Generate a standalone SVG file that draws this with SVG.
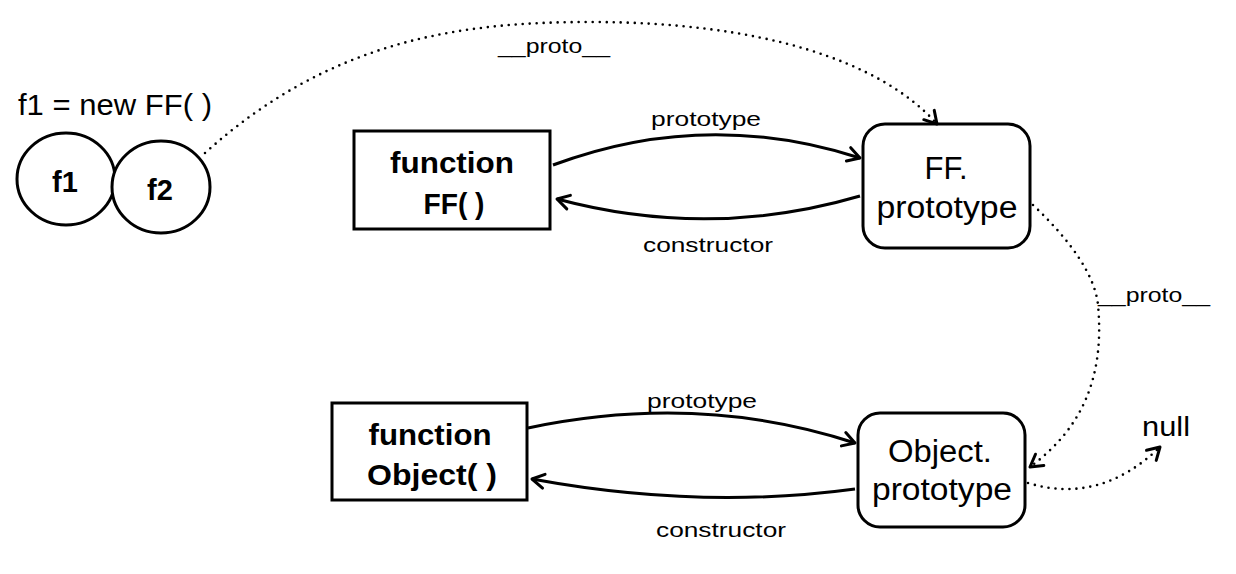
<svg xmlns="http://www.w3.org/2000/svg" width="1236" height="574" viewBox="0 0 1236 574">
<style>
text{font-family:"Liberation Sans",Arial,sans-serif;fill:#000}
.b{font-weight:bold;font-size:30px;text-anchor:middle}
.n{font-size:31px;text-anchor:middle}
.l{font-size:21px;text-anchor:middle}
.shape{fill:#fff;stroke:#000;stroke-width:3}
.solid{fill:none;stroke:#000;stroke-width:3}
.dot{fill:none;stroke:#000;stroke-width:2.6;stroke-linecap:round;stroke-dasharray:0 7}
</style>
<defs>
<marker id="ah" viewBox="0 0 20 20" refX="18" refY="10" markerWidth="20" markerHeight="20" markerUnits="userSpaceOnUse" orient="auto">
<path d="M6,3 L18,10 L6,17" fill="none" stroke="#000" stroke-width="3" stroke-linecap="round" stroke-linejoin="round"/>
</marker>
</defs>
<g id="label-new">
<text x="18" y="115" style="font-size:30px" textLength="194" lengthAdjust="spacingAndGlyphs">f1 = new FF( )</text>
</g>
<g id="f1">
<ellipse class="shape" cx="66" cy="179" rx="49" ry="46"/>
<text class="b" x="65" y="192" style="font-size:29px">f1</text>
</g>
<g id="f2">
<ellipse class="shape" cx="161" cy="187" rx="49" ry="46"/>
<text class="b" x="160" y="200" style="font-size:29px">f2</text>
</g>
<g id="functionFF">
<rect class="shape" x="354" y="131" width="196" height="98"/>
<text class="b" x="452" y="173" textLength="124" lengthAdjust="spacingAndGlyphs">function</text>
<text class="b" x="454" y="214" textLength="61" lengthAdjust="spacingAndGlyphs">FF( )</text>
</g>
<g id="FFprototype">
<rect class="shape" x="863" y="124" width="167" height="124" rx="22"/>
<text class="n" x="946" y="179">FF.</text>
<text class="n" x="947" y="218" textLength="141" lengthAdjust="spacingAndGlyphs">prototype</text>
</g>
<g id="functionObject">
<rect class="shape" x="332" y="403" width="195" height="97"/>
<text class="b" x="430" y="445" textLength="123" lengthAdjust="spacingAndGlyphs">function</text>
<text class="b" x="432" y="485" textLength="130" lengthAdjust="spacingAndGlyphs">Object( )</text>
</g>
<g id="ObjectPrototype">
<rect class="shape" x="858" y="413" width="167" height="114" rx="22"/>
<text class="n" x="940" y="462" textLength="104" lengthAdjust="spacingAndGlyphs">Object.</text>
<text class="n" x="942" y="500" textLength="140" lengthAdjust="spacingAndGlyphs">prototype</text>
</g>
<g id="null">
<text x="1142" y="436" style="font-size:28px" textLength="48" lengthAdjust="spacingAndGlyphs">null</text>
</g>
<g id="connectors">
<path class="solid" d="M553,165 Q705,108 860,158" marker-end="url(#ah)"/>
<text class="l" x="706" y="126" textLength="110" lengthAdjust="spacingAndGlyphs">prototype</text>
<path class="solid" d="M860,196 Q710,240 557,199" marker-end="url(#ah)"/>
<text class="l" x="708" y="252" textLength="130" lengthAdjust="spacingAndGlyphs">constructor</text>
<path class="solid" d="M528,428 Q700,392 855,443" marker-end="url(#ah)"/>
<text class="l" x="702" y="408" textLength="110" lengthAdjust="spacingAndGlyphs">prototype</text>
<path class="solid" d="M855,489 Q700,510 532,479" marker-end="url(#ah)"/>
<text class="l" x="721" y="537" textLength="130" lengthAdjust="spacingAndGlyphs">constructor</text>
<path class="dot" d="M205,153 C330,40 460,22 590,22 C760,22 880,60 937,124" marker-end="url(#ah)"/>
<text class="l" x="554" y="53" textLength="112" lengthAdjust="spacingAndGlyphs">__proto__</text>
<path class="dot" d="M1033,205 C1070,240 1095,275 1098,305 C1105,380 1080,430 1030,467" marker-end="url(#ah)"/>
<text x="1098" y="302" style="font-size:21px" textLength="112" lengthAdjust="spacingAndGlyphs">__proto__</text>
<path class="dot" d="M1028,483 Q1100,505 1160,447" marker-end="url(#ah)"/>
</g>
</svg>
